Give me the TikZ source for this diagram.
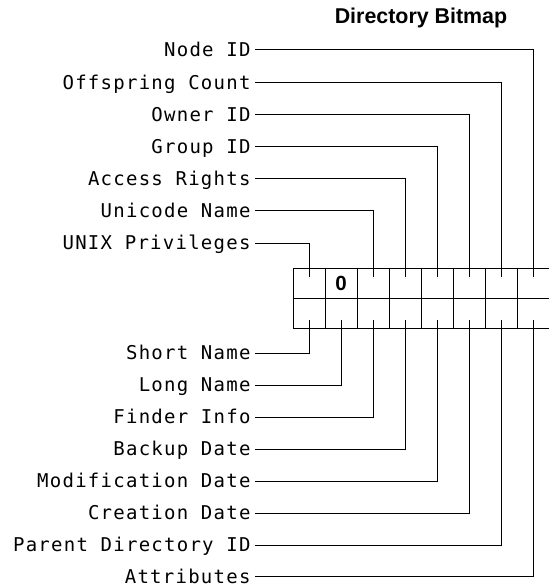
\documentclass[tikz,border=0pt]{standalone}
\usepackage{fontspec}
\setmainfont{Liberation Sans}
\newfontfamily\fieldfont[LetterSpace=6.6]{DejaVu Sans Mono}

\begin{document}
\begin{tikzpicture}[x=1pt, y=-1pt, line width=1pt,
    field/.style={anchor=east, inner xsep=4pt, inner ysep=0pt,
        text height=13.8pt, text depth=0pt,
        font=\fieldfont\fontsize{19}{22}\selectfont}]
    \useasboundingbox (0,0) rectangle (548,585);
    \node (title) at (421,18) {\bfseries\fontsize{21.4}{25}\selectfont Directory Bitmap};

    % bitmap cells
    \draw (560,268) -- (293,268) -- (293,328) -- (560,328);
    \draw (293,298) -- (560,298);
    \foreach \x in {1,...,8}
        \draw (293+32.1*\x,268) -- (293+32.1*\x,328);
    \node (zero) at (341.15,283.5) {\bfseries\fontsize{20.5}{24}\selectfont 0};

    % tick ends, one per bit
    \coordinate (t1) at (309.05,277);
    \coordinate (t3) at (373.25,277);
    \coordinate (t4) at (405.35,277);
    \coordinate (t5) at (437.45,277);
    \coordinate (t6) at (469.55,277);
    \coordinate (t7) at (501.65,277);
    \coordinate (t8) at (533.75,277);
    \coordinate (b1) at (309.05,320);
    \coordinate (b2) at (341.15,320);
    \coordinate (b3) at (373.25,320);
    \coordinate (b4) at (405.35,320);
    \coordinate (b5) at (437.45,320);
    \coordinate (b6) at (469.55,320);
    \coordinate (b7) at (501.65,320);
    \coordinate (b8) at (533.75,320);

    \node (nodeid) at (255,50) [field] {Node ID};
    \node (offspring) at (255,82.2) [field] {Offspring Count};
    \node (owner) at (255,114.3) [field] {Owner ID};
    \node (group) at (255,146.5) [field] {Group ID};
    \node (access) at (255,178.7) [field] {Access Rights};
    \node (unicode) at (255,210.8) [field] {Unicode Name};
    \node (unix) at (255,243) [field] {UNIX Privileges};

    \node (short) at (255,353) [field] {Short Name};
    \node (long) at (255,385) [field] {Long Name};
    \node (finder) at (255,417) [field] {Finder Info};
    \node (backup) at (255,449) [field] {Backup Date};
    \node (modif) at (255,481) [field] {Modification Date};
    \node (creation) at (255,513) [field] {Creation Date};
    \node (parent) at (255,545) [field] {Parent Directory ID};
    \node (attrib) at (255,576.5) [field] {Attributes};

    \draw (nodeid.east) -| (t8);
    \draw (offspring.east) -| (t7);
    \draw (owner.east) -| (t6);
    \draw (group.east) -| (t5);
    \draw (access.east) -| (t4);
    \draw (unicode.east) -| (t3);
    \draw (unix.east) -| (t1);

    \draw (short.east) -| (b1);
    \draw (long.east) -| (b2);
    \draw (finder.east) -| (b3);
    \draw (backup.east) -| (b4);
    \draw (modif.east) -| (b5);
    \draw (creation.east) -| (b6);
    \draw (parent.east) -| (b7);
    \draw (attrib.east) -| (b8);
\end{tikzpicture}
\end{document}
